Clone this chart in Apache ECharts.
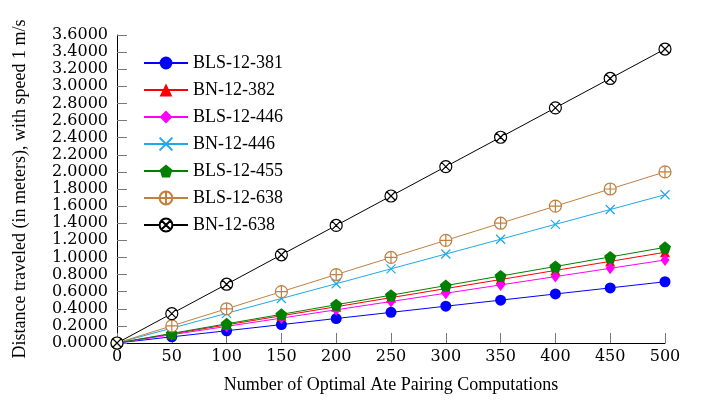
<!DOCTYPE html>
<html>
<head>
<meta charset="utf-8">
<script src="https://cdn.jsdelivr.net/npm/echarts@6/dist/echarts.min.js"></script>
<style>html,body{margin:0;padding:0;background:#fff}#c{width:710px;height:402px}</style>
</head>
<body>
<div id="c"></div>
<script>
var xValues = [0, 50, 100, 150, 200, 250, 300, 350, 400, 450, 500];
var bls12_381 = [0, 0.072, 0.143, 0.215, 0.286, 0.358, 0.430, 0.501, 0.573, 0.644, 0.716];
var bn12_382  = [0, 0.106, 0.212, 0.318, 0.424, 0.530, 0.636, 0.742, 0.848, 0.954, 1.060];
var bls12_446 = [0, 0.097, 0.194, 0.291, 0.388, 0.485, 0.582, 0.679, 0.776, 0.873, 0.970];
var bn12_446  = [0, 0.173, 0.347, 0.520, 0.693, 0.867, 1.040, 1.213, 1.387, 1.560, 1.733];
var bls12_455 = [0, 0.112, 0.224, 0.335, 0.447, 0.559, 0.671, 0.783, 0.894, 1.006, 1.118];
var bls12_638 = [0, 0.200, 0.400, 0.600, 0.800, 1.000, 1.200, 1.400, 1.600, 1.800, 2.000];
var bn12_638  = [0, 0.344, 0.687, 1.031, 1.374, 1.718, 2.062, 2.405, 2.749, 3.092, 3.436];
var seriesNames = ['BLS-12-381', 'BN-12-382', 'BLS-12-446', 'BN-12-446', 'BLS-12-455', 'BLS-12-638', 'BN-12-638'];

function pairs(vals) { return xValues.map(function (x, i) { return [x, vals[i]]; }); }

var PENT = 'path://M5,0L10,3.8L8.1,9.5L1.9,9.5L0,3.8Z';
var CROSS = 'path://M0,0L10,10M10,0L0,10';
var OPLUS = 'path://M0,5A5,5,0,1,1,10,5A5,5,0,1,1,0,5ZM5,0L5,10M0,5L10,5';
var OTIMES = 'path://M0,5A5,5,0,1,1,10,5A5,5,0,1,1,0,5ZM1.46,1.46L8.54,8.54M8.54,1.46L1.46,8.54';

function mk(name, vals, color, symbol, size, stroked) {
  return {
    name: name, type: 'line', data: pairs(vals),
    symbol: symbol, symbolSize: size, symbolKeepAspect: false,
    lineStyle: { color: color, width: 1 },
    itemStyle: stroked ? { color: stroked, borderColor: color, borderWidth: 1.2 } : { color: color, borderWidth: 0 },
    emphasis: { disabled: true },
    animation: false, z: 2
  };
}

var chart = echarts.init(document.getElementById('c'));
chart.setOption({
  animation: false,
  grid: { left: 117, right: 45, top: 35, bottom: 59 },
  legend: {
    orient: 'vertical', left: 138, top: 49,
    itemWidth: 44, itemHeight: 16, itemGap: 9,
    textStyle: { fontFamily: 'Liberation Serif', fontSize: 18, lineHeight: 18, color: '#000' },
    data: seriesNames
  },
  xAxis: {
    type: 'value', min: 0, max: 500, interval: 50,
    name: 'Number of Optimal Ate Pairing Computations', nameLocation: 'middle', nameGap: 33,
    nameTextStyle: { fontFamily: 'Liberation Serif', fontSize: 18, color: '#000' },
    axisLine: { show: true, lineStyle: { color: '#000', width: 1 } },
    axisTick: { show: true, inside: true, length: 10, lineStyle: { color: '#777' } },
    axisLabel: { fontFamily: 'DejaVu Serif', fontSize: 16, color: '#000', margin: 6 },
    splitLine: { show: false }
  },
  yAxis: {
    type: 'value', min: 0, max: 3.6, interval: 0.2,
    name: 'Distance traveled (in meters), with speed 1 m/s', nameLocation: 'middle', nameGap: 88,
    nameTextStyle: { fontFamily: 'Liberation Serif', fontSize: 18, color: '#000' },
    axisLine: { show: true, lineStyle: { color: '#000', width: 1 } },
    axisTick: { show: true, inside: true, length: 10, lineStyle: { color: '#777' } },
    axisLabel: { fontFamily: 'DejaVu Serif', fontSize: 16, color: '#000', margin: 9,
      formatter: function (v) { return v.toFixed(4); } },
    splitLine: { show: false }
  },
  series: [
    mk(seriesNames[0], bls12_381, '#0000ff', 'circle', 11),
    mk(seriesNames[1], bn12_382, '#ff0000', 'triangle', 10),
    mk(seriesNames[2], bls12_446, '#ff00ff', 'diamond', [9, 12]),
    mk(seriesNames[3], bn12_446, '#1fa9e6', CROSS, 9, 'none'),
    mk(seriesNames[4], bls12_455, '#008000', PENT, 12),
    mk(seriesNames[5], bls12_638, '#c08040', OPLUS, 12, '#fff'),
    mk(seriesNames[6], bn12_638, '#000000', OTIMES, 12, '#fff')
  ]
});
</script>
</body>
</html>
